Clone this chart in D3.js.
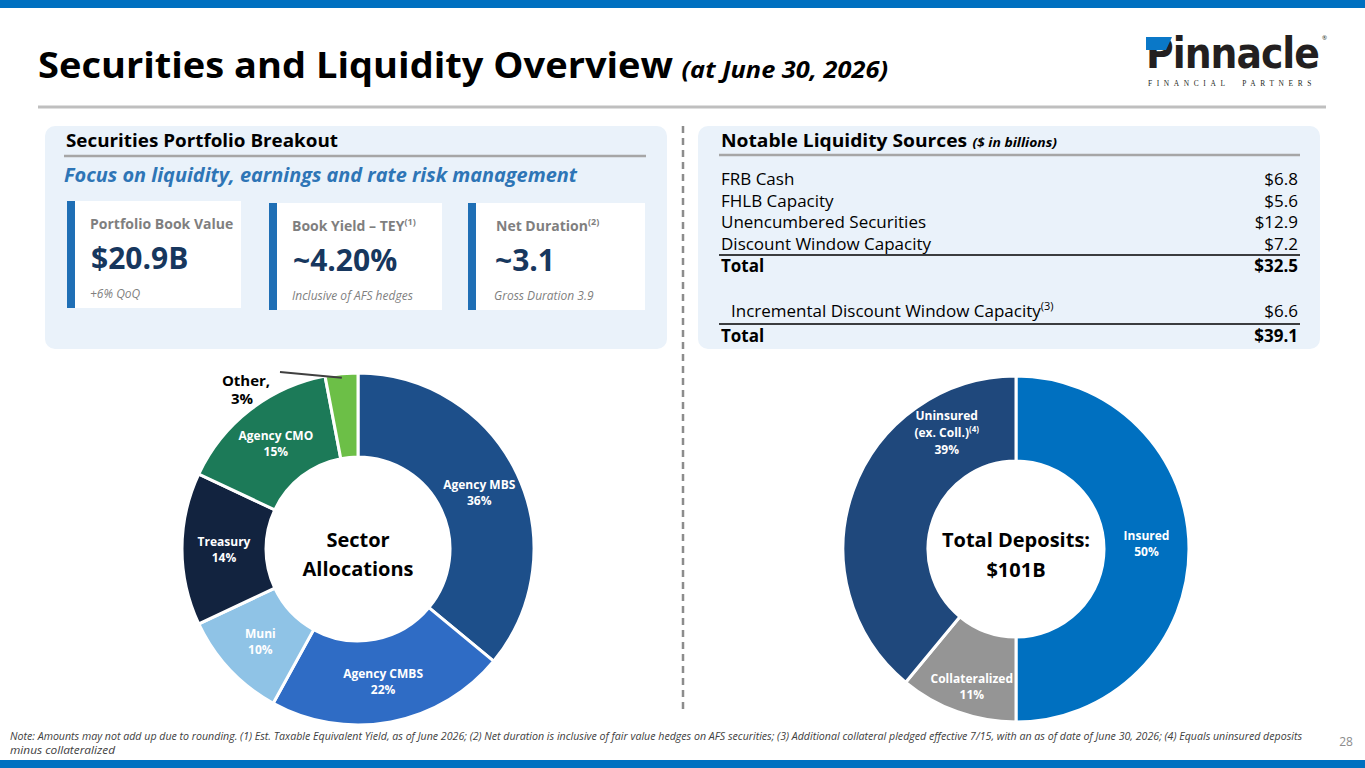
<!DOCTYPE html>
<html>
<head>
<meta charset="utf-8">
<script src="https://cdn.jsdelivr.net/npm/d3@7"></script>
<style>
  body { margin: 0; background: #fff; }
  svg { display: block; font-family: "Open Sans", "Noto Sans", sans-serif; }
</style>
</head>
<body>
<div id="chart"></div>
<script>
// Sector allocations (donut, clockwise from 12 o'clock)
const sectors = ["Agency MBS", "Agency CMBS", "Muni", "Treasury", "Agency CMO", "Other"];
const sectorShares = [36, 22, 10, 14, 15, 3];
const sectorColors = ["#1d4f8a", "#2f6cc5", "#8fc3e6", "#12233f", "#1c7a58", "#6cbf47"];

// Deposit mix (donut, clockwise from 12 o'clock)
const depositTypes = ["Insured", "Collateralized", "Uninsured"];
const depositShares = [50, 11, 39];
const depositColors = ["#0070c0", "#959595", "#1f487c"];

// Liquidity table ($ in billions)
const liquidityItems = ["FRB Cash", "FHLB Capacity", "Unencumbered Securities", "Discount Window Capacity"];
const liquidityValues = [6.8, 5.6, 12.9, 7.2];
const liquidityTotal = 32.5;
const incrementalLabel = "Incremental Discount Window Capacity";
const incrementalValue = 6.6;
const grandTotal = 39.1;

// KPI cards
const kpiLabels = ["Portfolio Book Value", "Book Yield \u2013 TEY", "Net Duration"];
const kpiNotesSup = ["", "(1)", "(2)"];
const kpiValues = ["$20.9B", "~4.20%", "~3.1"];
const kpiNotes = ["+6% QoQ", "Inclusive of AFS hedges", "Gross Duration 3.9"];

const W = 1365, H = 768;
const svg = d3.select("#chart").append("svg")
    .attr("width", W)
    .attr("height", H);

// stretch/squeeze a text to a target width (Calibri is narrower than the installed fonts)
function fit(sel, w) {
    sel.attr("textLength", w).attr("lengthAdjust", "spacingAndGlyphs");
    return sel;
}

// Top & bottom brand bands
svg.append("rect").attr("x", 0).attr("y", 0).attr("width", W).attr("height", 8).attr("fill", "#0070c0");
svg.append("rect").attr("x", 0).attr("y", 760).attr("width", W).attr("height", 8).attr("fill", "#0070c0");

// Title
const title = svg.append("text")
    .attr("x", 38).attr("y", 78)
    .attr("font-size", 36).attr("font-weight", 700).attr("fill", "#000");
title.append("tspan").text("Securities and Liquidity Overview");
title.append("tspan").attr("dx", 8).attr("font-size", 24).attr("font-style", "italic").text("(at June 30, 2026)");
fit(title, 850);

svg.append("line").attr("x1", 38).attr("x2", 1326).attr("y1", 107).attr("y2", 107)
    .attr("stroke", "#bfbfbf").attr("stroke-width", 3);

// Logo
const logo = svg.append("g");
const brand = logo.append("text").attr("x", 1146).attr("y", 68)
    .attr("font-family", "'DejaVu Sans Condensed', 'DejaVu Sans', sans-serif")
    .attr("font-size", 42).attr("font-weight", 700).attr("fill", "#231f20")
    .attr("letter-spacing", -1)
    .text("Pinnacle");
const brandEnd = 1146 + brand.node().getComputedTextLength();
logo.append("polygon")
    .attr("points", "1146,37 1172,37 1166,50 1146,50")
    .attr("fill", "#0a78c8");
logo.append("text").attr("x", brandEnd + 3).attr("y", 40).attr("font-size", 6).attr("fill", "#231f20").text("\u00ae");
fit(logo.append("text").attr("x", 1148).attr("y", 86)
    .attr("font-family", "'Liberation Serif', 'DejaVu Serif', serif")
    .attr("font-size", 8).attr("fill", "#231f20")
    .attr("letter-spacing", 5)
    .style("white-space", "pre")
    .text("FINANCIAL  PARTNERS"), 168);

// Panels
svg.append("rect").attr("x", 45).attr("y", 126).attr("width", 622).attr("height", 223)
    .attr("rx", 10).attr("fill", "#eaf2fa");
svg.append("rect").attr("x", 698).attr("y", 126).attr("width", 622).attr("height", 223)
    .attr("rx", 10).attr("fill", "#eaf2fa");

// Divider
svg.append("line").attr("x1", 683).attr("x2", 683).attr("y1", 126).attr("y2", 712)
    .attr("stroke", "#8c8c8c").attr("stroke-width", 2.5).attr("stroke-dasharray", "7,5");

// Left panel header
fit(svg.append("text").attr("x", 66).attr("y", 147)
    .attr("font-size", 18).attr("font-weight", 700).attr("fill", "#000")
    .text("Securities Portfolio Breakout"), 272);
svg.append("line").attr("x1", 64).attr("x2", 646).attr("y1", 156).attr("y2", 156)
    .attr("stroke", "#a6a6a6").attr("stroke-width", 2.5);
fit(svg.append("text").attr("x", 64).attr("y", 182)
    .attr("font-size", 19).attr("font-weight", 700).attr("font-style", "italic").attr("fill", "#2e75b6")
    .text("Focus on liquidity, earnings and rate risk management"), 513);

// KPI cards
const cardX = [67, 269, 468];
const cardW = [174, 173, 177];
const cards = svg.selectAll("g.card").data(kpiLabels).join("g")
    .attr("class", "card")
    .attr("transform", (d, i) => `translate(${cardX[i]},${i === 0 ? 201 : 203})`);
cards.append("rect").attr("width", (d, i) => cardW[i]).attr("height", 107).attr("fill", "#fff");
cards.append("rect").attr("width", 8).attr("height", 107).attr("fill", "#1f6fb5");
cards.each(function (d, i) {
    const g = d3.select(this);
    const lab = g.append("text").attr("x", i === 2 ? 28 : 23).attr("y", 28)
        .attr("font-size", 14).attr("font-weight", 700).attr("fill", "#7f7f7f");
    lab.append("tspan").text(d);
    if (kpiNotesSup[i]) {
        lab.append("tspan").attr("font-size", 9).attr("dy", -6).text(kpiNotesSup[i]);
    }
    g.append("text").attr("x", i === 2 ? 27 : 24).attr("y", 68)
        .attr("font-size", 30).attr("font-weight", 700).attr("fill", "#17375e")
        .text(kpiValues[i]);
    g.append("text").attr("x", i === 2 ? 26 : 23).attr("y", 97)
        .attr("font-size", 12).attr("font-style", "italic").attr("fill", "#7f7f7f")
        .text(kpiNotes[i]);
});

// Right panel header
const rh = svg.append("text").attr("x", 721).attr("y", 147).attr("fill", "#000").attr("font-weight", 700);
rh.append("tspan").attr("font-size", 18).text("Notable Liquidity Sources");
rh.append("tspan").attr("dx", 5).attr("font-size", 13).attr("font-style", "italic").text("($ in billions)");
fit(rh, 336);
svg.append("line").attr("x1", 719).attr("x2", 1300).attr("y1", 155).attr("y2", 155)
    .attr("stroke", "#a6a6a6").attr("stroke-width", 2.5);

// Liquidity rows
const rowY = d3.scalePoint().domain(liquidityItems).range([185, 250]);
const fmt = v => "$" + d3.format(".1f")(v);
const rows = svg.selectAll("g.lrow").data(liquidityItems).join("g").attr("class", "lrow");
rows.append("text").attr("x", 721).attr("y", d => rowY(d))
    .attr("font-size", 17).attr("fill", "#000").text(d => d);
rows.append("text").attr("x", 1298).attr("y", d => rowY(d)).attr("text-anchor", "end")
    .attr("font-size", 17).attr("fill", "#000").text((d, i) => fmt(liquidityValues[i]));

svg.append("line").attr("x1", 719).attr("x2", 1300).attr("y1", 255).attr("y2", 255)
    .attr("stroke", "#000").attr("stroke-width", 1.5);
svg.append("text").attr("x", 721).attr("y", 272).attr("font-size", 17).attr("font-weight", 700).text("Total");
svg.append("text").attr("x", 1298).attr("y", 272).attr("text-anchor", "end")
    .attr("font-size", 17).attr("font-weight", 700).text(fmt(liquidityTotal));

const inc = svg.append("text").attr("x", 731).attr("y", 317).attr("font-size", 17);
inc.append("tspan").text(incrementalLabel);
inc.append("tspan").attr("font-size", 11).attr("dy", -7).text("(3)");
svg.append("text").attr("x", 1298).attr("y", 317).attr("text-anchor", "end")
    .attr("font-size", 17).text(fmt(incrementalValue));
svg.append("line").attr("x1", 719).attr("x2", 1300).attr("y1", 324).attr("y2", 324)
    .attr("stroke", "#000").attr("stroke-width", 1.5);
svg.append("text").attr("x", 721).attr("y", 342).attr("font-size", 17).attr("font-weight", 700).text("Total");
svg.append("text").attr("x", 1298).attr("y", 342).attr("text-anchor", "end")
    .attr("font-size", 17).attr("font-weight", 700).text(fmt(grandTotal));

// Donut helper
function donut(cx, cy, r0, r1, names, values, colors, labelAngle) {
    const g = svg.append("g").attr("transform", `translate(${cx},${cy})`);
    const pie = d3.pie().sort(null).value(d => d.v);
    const data = pie(names.map((n, i) => ({ n, v: values[i], c: colors[i] })));
    const arc = d3.arc().innerRadius(r0).outerRadius(r1);
    g.selectAll("path").data(data).join("path")
        .attr("d", arc)
        .attr("fill", d => d.data.c)
        .attr("stroke", "#fff").attr("stroke-width", 3);
    const rm = (r0 + r1) / 2;
    data.forEach(d => {
        d.lx = Math.sin(labelAngle[d.data.n] ?? (d.startAngle + d.endAngle) / 2) * rm;
        d.ly = -Math.cos(labelAngle[d.data.n] ?? (d.startAngle + d.endAngle) / 2) * rm;
    });
    return { g, data, arc };
}

// Sector donut
const sec = donut(358, 549, 92, 176, sectors, sectorShares, sectorColors, {});
sec.data.filter(d => d.data.n !== "Other").forEach(d => {
    const t = sec.g.append("text").attr("text-anchor", "middle")
        .attr("font-size", 12).attr("font-weight", 700).attr("fill", "#fff");
    t.append("tspan").attr("x", d.lx).attr("y", d.ly - 3).text(d.data.n);
    t.append("tspan").attr("x", d.lx).attr("y", d.ly + 13).text(d.data.v + "%");
});
// "Other" callout
const oth = sec.data.find(d => d.data.n === "Other");
const oa = (oth.startAngle + oth.endAngle) / 2;
sec.g.append("line")
    .attr("x1", -78).attr("y1", -177)
    .attr("x2", Math.sin(oa) * 172).attr("y2", -Math.cos(oa) * 172)
    .attr("stroke", "#404040").attr("stroke-width", 2);
const ot = sec.g.append("text").attr("text-anchor", "middle")
    .attr("font-size", 15).attr("font-weight", 700).attr("fill", "#000");
ot.append("tspan").attr("x", -112).attr("y", -163).text("Other,");
ot.append("tspan").attr("x", -116).attr("y", -145).text(oth.data.v + "%");
const sc = sec.g.append("text").attr("text-anchor", "middle")
    .attr("font-size", 20).attr("font-weight", 700).attr("fill", "#000");
sc.append("tspan").attr("x", 0).attr("y", -2).text("Sector");
sc.append("tspan").attr("x", 0).attr("y", 27).text("Allocations");

// Deposit donut
const dep = donut(1016, 549, 88, 173, depositTypes, depositShares, depositColors,
    { "Uninsured": -0.56 });
dep.data.forEach(d => {
    const t = dep.g.append("text").attr("text-anchor", "middle")
        .attr("font-size", 12).attr("font-weight", 700).attr("fill", "#fff");
    if (d.data.n === "Uninsured") {
        t.append("tspan").attr("x", d.lx).attr("y", d.ly - 18).text("Uninsured");
        t.append("tspan").attr("x", d.lx).attr("y", d.ly - 1).text("(ex. Coll.)");
        t.append("tspan").attr("font-size", 8).attr("dy", -5).text("(4)");
        t.append("tspan").attr("x", d.lx).attr("y", d.ly + 16).text(d.data.v + "%");
    } else {
        const shift = d.data.n === "Collateralized" ? 14 : -6;
        t.append("tspan").attr("x", d.lx).attr("y", d.ly - 3 + shift).text(d.data.n);
        t.append("tspan").attr("x", d.lx).attr("y", d.ly + 13 + shift).text(d.data.v + "%");
    }
});
const dc = dep.g.append("text").attr("text-anchor", "middle")
    .attr("font-size", 20).attr("font-weight", 700).attr("fill", "#000");
dc.append("tspan").attr("x", 0).attr("y", -2).text("Total Deposits:");
dc.append("tspan").attr("x", 0).attr("y", 28).text("$101B");

// Footnote
const foot = svg.append("g").attr("font-size", 10).attr("font-style", "italic").attr("fill", "#404040");
fit(foot.append("text").attr("x", 10).attr("y", 740)
    .text("Note: Amounts may not add up due to rounding. (1) Est. Taxable Equivalent Yield, as of June 2026; (2) Net duration is inclusive of fair value hedges on AFS securities; (3) Additional collateral pledged effective 7/15, with an as of date of June 30, 2026; (4) Equals uninsured deposits"), 1292);
fit(foot.append("text").attr("x", 10).attr("y", 754).text("minus collateralized"), 105);
svg.append("text").attr("x", 1346).attr("y", 746).attr("text-anchor", "middle")
    .attr("font-size", 12).attr("fill", "#8c8c8c").text("28");
</script>
</body>
</html>
